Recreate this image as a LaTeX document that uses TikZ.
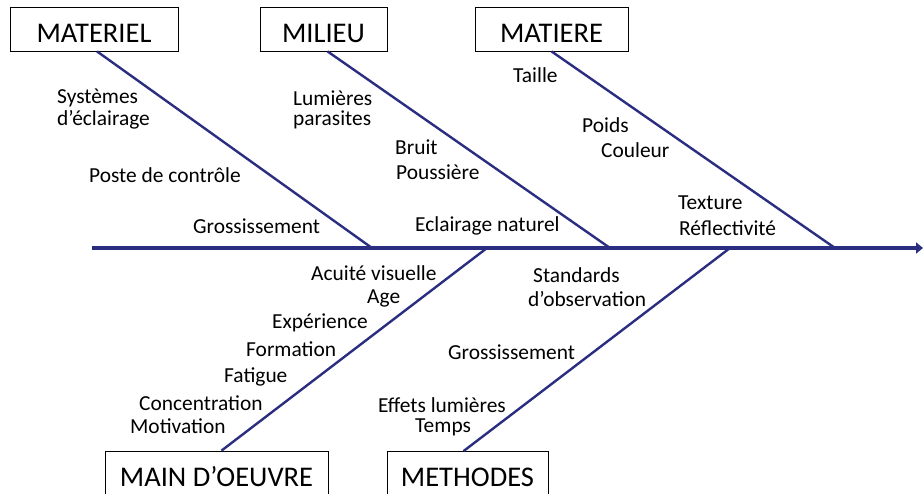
\documentclass[tikz,border=0pt]{standalone}
\usepackage{fontspec}
\setmainfont{Carlito}
\usetikzlibrary{positioning,arrows.meta}
\definecolor{navy}{RGB}{42,45,128}

\begin{document}
\begin{tikzpicture}[x=1pt, y=-1pt, b/.style={draw, line width=.8pt, minimum height=44pt, inner sep=0pt, text height=26pt, text depth=0pt, font=\fontsize{28.5}{31}\selectfont}, l/.style={anchor=west, inner sep=0pt, font=\fontsize{21.4}{23}\selectfont}, s/.style={navy, line width=2.4pt}]
		\useasboundingbox (0,0) rectangle (923,493);

		% boxes
		\node[b, minimum width=168pt] (MAT) at (94,29) {MATERIEL};
		\node[b, minimum width=127pt] (MIL) at (323.5,29) {MILIEU};
		\node[b, minimum width=153pt] (MTR) at (551.5,29) {MATIERE};
		\node[b, minimum width=223pt, minimum height=70pt, text height=18.4pt, text depth=17pt] (MO) at (216.5,486) {MAIN D’OEUVRE};
		\node[b, minimum width=161pt, minimum height=70pt, text height=18.4pt, text depth=18pt] (ME) at (467.5,486.5) {METHODES};

		% spine
		\coordinate (T) at (92,248);
		\coordinate (H) at (923,248);
		\coordinate (J1) at (372,248);
		\coordinate (J2) at (610,248);
		\coordinate (J3) at (835,248);
		\coordinate (J4) at (487,248);
		\coordinate (J5) at (730,248);
		\draw[s, line width=3.6pt, -{Triangle[length=7pt, width=11pt]}] (T) -- (H);
		\draw[s] (MAT.south) ++(3,0) -- (J1);
		\draw[s] (MIL.south) ++(4,0) -- (J2);
		\draw[s] (MTR.south) -- (J3);
		\draw[s] (MO.north) ++(5,0) -- (J4);
		\draw[s] (ME.north) ++(-4,0) -- (J5);

		% MATERIEL
		\node[l] (S1) at (57,98) {Systèmes};
		\node[l] (S2) at (57,120) {d’éclairage};
		\node[l] (P1) at (89,175) {Poste de contrôle};
		\node[l] (G1) at (193,226) {Grossissement};
		% MILIEU
		\node[l] (L1) at (293,98) {Lumières};
		\node[l] (L2) at (293,120) {parasites};
		\node[l] (B1) at (395,147) {Bruit};
		\node[l] (P2) at (396,172) {Poussière};
		\node[l] (E1) at (415,226) {Eclairage naturel};
		% MATIERE
		\node[l] (T1) at (513,75) {Taille};
		\node[l] (P3) at (582,125) {Poids};
		\node[l] (C1) at (601,150) {Couleur};
		\node[l] (T2) at (678,203) {Texture};
		\node[l] (R1) at (679,228) {Réflectivité};
		% MAIN D'OEUVRE
		\node[l] (A1) at (311,273) {Acuité visuelle};
		\node[l] (A2) at (367,298) {Age};
		\node[l] (E2) at (272,323) {Expérience};
		\node[l] (F1) at (246,349) {Formation};
		\node[l] (F2) at (224,377) {Fatigue};
		\node[l] (C2) at (139,403) {Concentration};
		\node[l] (M1) at (130,426) {Motivation};
		% METHODES
		\node[l] (S3) at (533,275) {Standards};
		\node[l] (D1) at (528,299) {d’observation};
		\node[l] (G2) at (448,352) {Grossissement};
		\node[l] (E3) at (378,405) {Effets lumières};
		\node[l] (T3) at (415,427) {Temps};
	\end{tikzpicture}
\end{document}
